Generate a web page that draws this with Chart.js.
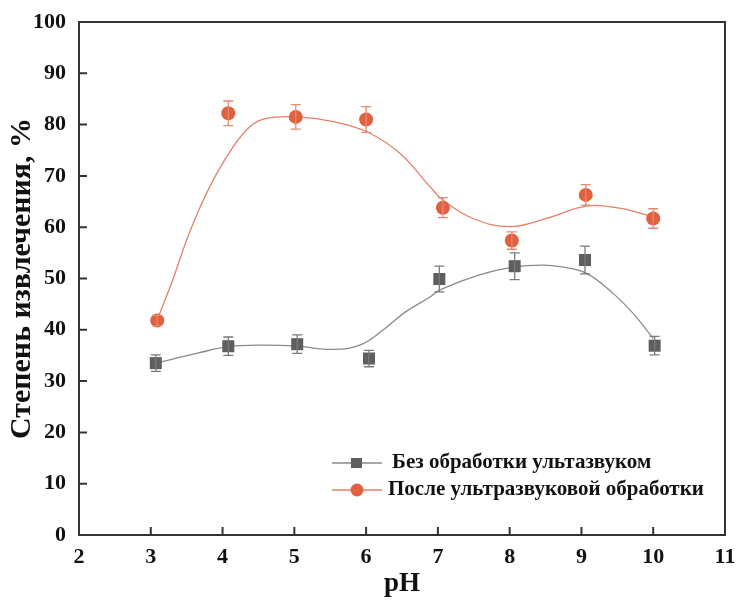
<!DOCTYPE html>
<html>
<head>
<meta charset="utf-8">
<script src="https://cdn.jsdelivr.net/npm/chart.js@4"></script>
<style>
  html, body { margin: 0; padding: 0; background: #fff; }
  #wrap { width: 737px; height: 601px; }
</style>
</head>
<body>
<div id="wrap"><canvas id="chart" width="737" height="601"></canvas></div>
<script>
// measured points (pH, extraction %)
const noUltraX = [3.07, 4.08, 5.04, 6.04, 7.02, 8.07, 9.05, 10.02];
const noUltraY = [33.5, 36.8, 37.2, 34.4, 49.9, 52.4, 53.6, 36.9];
const noUltraErr = [1.6, 1.8, 1.8, 1.6, 2.5, 2.6, 2.7, 1.8];

const ultraX = [3.09, 4.08, 5.02, 6.0, 7.07, 8.03, 9.06, 10.0];
const ultraY = [41.8, 82.2, 81.5, 81.0, 63.8, 57.4, 66.3, 61.7];
const ultraErr = [1.0, 2.4, 2.4, 2.5, 1.95, 1.7, 2.0, 1.9];

// fitted curves
const noUltraFitX = [3.07, 3.64, 4.08, 4.57, 5.03, 5.54, 5.91, 6.24, 6.55, 6.89, 7.03, 7.58, 8.05, 8.47, 8.7, 9.07, 9.44, 9.72, 10.0];
const noUltraFitY = [33.5, 35.4, 36.7, 37.0, 36.8, 36.2, 37.0, 40.0, 43.5, 46.4, 47.8, 50.7, 52.2, 52.6, 52.3, 51.0, 47.1, 43.2, 38.3];

const ultraFitX = [3.09, 3.3, 3.5, 3.69, 3.92, 4.15, 4.38, 4.61, 5.03, 5.54, 6.01, 6.47, 6.89, 7.07, 7.49, 8.0, 8.51, 9.07, 9.53, 10.0];
const ultraFitY = [42, 49.5, 57.5, 64, 70.5, 75.7, 79.6, 81.2, 81.5, 80.6, 78.6, 74.4, 67.9, 65.3, 61.7, 60.1, 61.7, 64.1, 63.7, 62.0];

const labels = ['Без обработки ультазвуком', 'После ультразвуковой обработки'];
const xTicks = [2, 3, 4, 5, 6, 7, 8, 9, 10, 11];
const yTicks = [0, 10, 20, 30, 40, 50, 60, 70, 80, 90, 100];

const GRAY = '#5f5f5f', GRAY_LINE = '#8a8a8a', GRAY_ERR = '#7a7a7a';
const ORANGE = '#e0603f', ORANGE_LINE = '#e3806a', ORANGE_ERR = '#e48a74';
const AXIS = '#333333';
const FONT = '"Liberation Serif", "Times New Roman", serif';

function pts(xs, ys) { return xs.map((x, i) => ({ x: x, y: ys[i] })); }

const frame = {
  id: 'frame',
  beforeDatasetsDraw(chart) {
    const ctx = chart.ctx, a = chart.chartArea;
    const xs = chart.scales.x, ys = chart.scales.y;
    ctx.save();
    ctx.strokeStyle = AXIS;
    ctx.lineWidth = 2;
    ctx.strokeRect(a.left, a.top, a.right - a.left, a.bottom - a.top);
    // inward ticks
    ctx.beginPath();
    xTicks.forEach(v => {
      const px = xs.getPixelForValue(v);
      ctx.moveTo(px, a.bottom); ctx.lineTo(px, a.bottom - 8);
    });
    yTicks.forEach(v => {
      const py = ys.getPixelForValue(v);
      ctx.moveTo(a.left, py); ctx.lineTo(a.left + 8, py);
    });
    ctx.stroke();
    ctx.restore();
  },
  afterDatasetsDraw(chart) {
    const ctx = chart.ctx;
    const xs = chart.scales.x, ys = chart.scales.y;
    const sets = [[noUltraX, noUltraY, noUltraErr, GRAY_ERR], [ultraX, ultraY, ultraErr, ORANGE_ERR]];
    ctx.save();
    ctx.lineWidth = 1.3;
    sets.forEach(s => {
      ctx.strokeStyle = s[3];
      ctx.beginPath();
      s[0].forEach((x, i) => {
        const px = xs.getPixelForValue(x);
        const hi = ys.getPixelForValue(s[1][i] + s[2][i]);
        const lo = ys.getPixelForValue(s[1][i] - s[2][i]);
        ctx.moveTo(px, hi); ctx.lineTo(px, lo);
        ctx.moveTo(px - 5, hi); ctx.lineTo(px + 5, hi);
        ctx.moveTo(px - 5, lo); ctx.lineTo(px + 5, lo);
      });
      ctx.stroke();
    });
    ctx.restore();
  },
  afterDraw(chart) {
    // legend inside the plot, lower right
    const ctx = chart.ctx;
    const rows = [
      { text: labels[0], line: GRAY_LINE, fill: GRAY, shape: 'rect', y: 463, tx: 392 },
      { text: labels[1], line: ORANGE_LINE, fill: ORANGE, shape: 'circle', y: 490, tx: 388 }
    ];
    ctx.save();
    rows.forEach(r => {
      ctx.strokeStyle = r.line;
      ctx.lineWidth = 1.3;
      ctx.beginPath();
      ctx.moveTo(332, r.y); ctx.lineTo(382, r.y);
      ctx.stroke();
      ctx.fillStyle = r.fill;
      if (r.shape === 'rect') {
        ctx.fillRect(351, r.y - 5, 11, 10);
      } else {
        ctx.beginPath(); ctx.arc(357, r.y, 6.5, 0, Math.PI * 2); ctx.fill();
      }
      ctx.fillStyle = '#111';
      ctx.font = 'bold 21px ' + FONT;
      ctx.textBaseline = 'middle';
      ctx.textAlign = 'left';
      ctx.fillText(r.text, r.tx, r.y);
    });
    ctx.restore();
  }
};

new Chart(document.getElementById('chart'), {
  type: 'scatter',
  data: {
    datasets: [
      {
        label: labels[0] + ' fit', data: pts(noUltraFitX, noUltraFitY), showLine: true,
        borderColor: GRAY_LINE, borderWidth: 1.3, pointRadius: 0, tension: 0.4, order: 3
      },
      {
        label: labels[1] + ' fit', data: pts(ultraFitX, ultraFitY), showLine: true,
        borderColor: ORANGE_LINE, borderWidth: 1.3, pointRadius: 0, tension: 0.4, order: 3
      },
      {
        label: labels[0], data: pts(noUltraX, noUltraY), pointStyle: 'rect', pointRadius: 8.5,
        backgroundColor: GRAY, borderColor: GRAY, borderWidth: 0, order: 1
      },
      {
        label: labels[1], data: pts(ultraX, ultraY), pointStyle: 'circle', pointRadius: 7,
        backgroundColor: ORANGE, borderColor: ORANGE, borderWidth: 0, order: 1
      }
    ]
  },
  options: {
    responsive: false,
    animation: false,
    layout: { padding: { top: 22, right: 12, left: 0, bottom: 0 } },
    plugins: { legend: { display: false }, tooltip: { enabled: false } },
    scales: {
      x: {
        type: 'linear', min: 2, max: 11,
        afterBuildTicks: s => { s.ticks = xTicks.map(v => ({ value: v })); },
        afterFit: s => { s.height = 66; s.paddingLeft = 0; s.paddingRight = 0; },
        grid: { display: false, drawTicks: false },
        border: { display: false },
        ticks: { color: '#111', padding: 9, font: { family: FONT, size: 22, weight: 'bold' } },
        title: { display: true, text: 'pH', color: '#111', padding: { bottom: 1 }, font: { family: FONT, size: 27, weight: 'bold' } }
      },
      y: {
        type: 'linear', min: 0, max: 100,
        afterBuildTicks: s => { s.ticks = yTicks.map(v => ({ value: v })); },
        afterFit: s => { s.width = 79; s.paddingTop = 0; s.paddingBottom = 0; },
        grid: { display: false, drawTicks: false },
        border: { display: false },
        ticks: { color: '#111', padding: 13, font: { family: FONT, size: 22, weight: 'bold' } },
        title: { display: true, text: 'Степень извлечения, %', color: '#111', padding: { top: 4 }, font: { family: FONT, size: 30, weight: 'bold' } }
      }
    }
  },
  plugins: [frame]
});
</script>
</body>
</html>
